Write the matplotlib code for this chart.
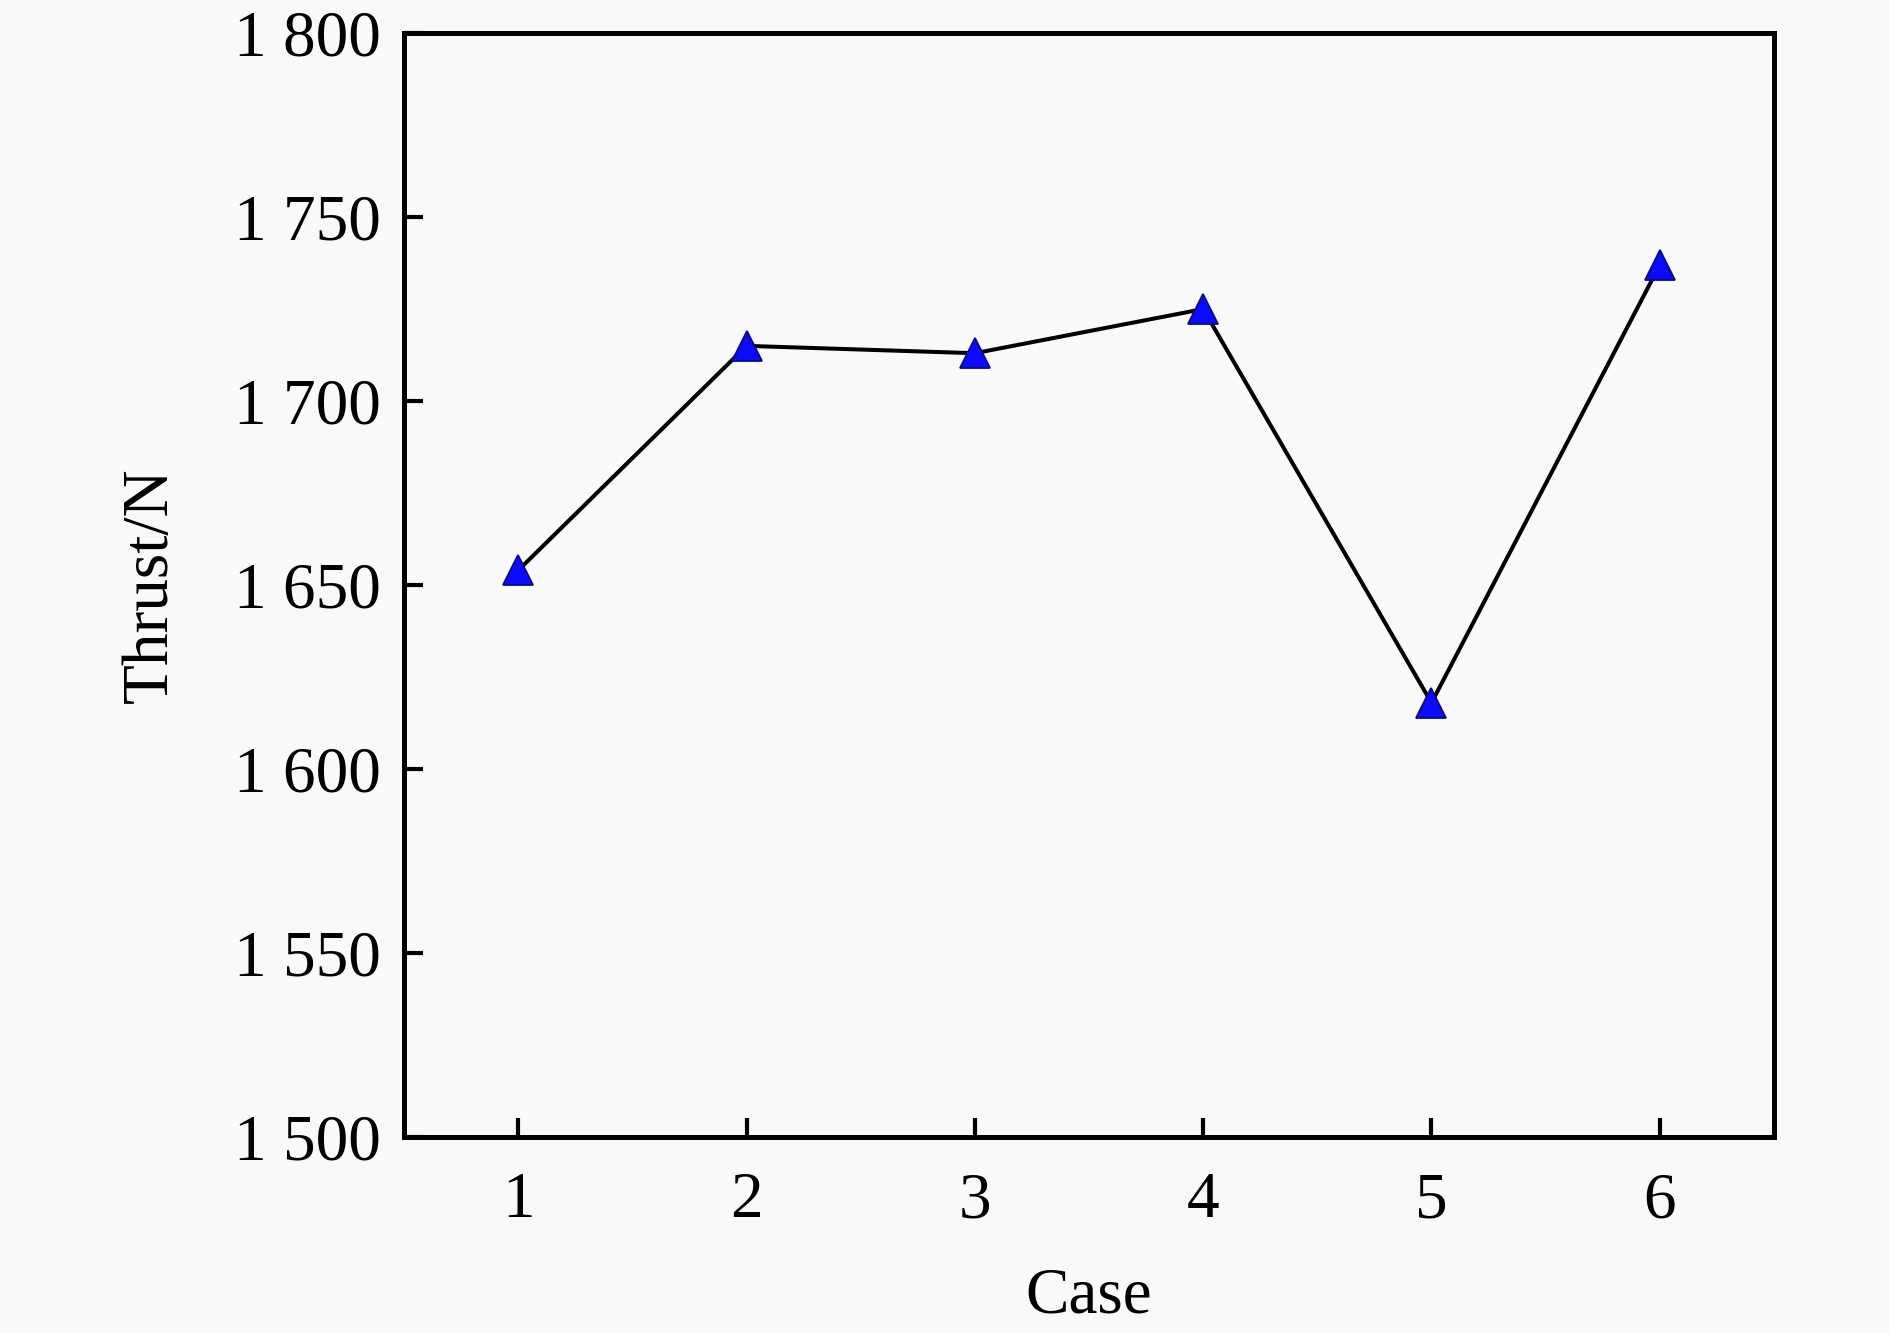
import matplotlib
matplotlib.use('Agg')
import matplotlib.pyplot as plt
from matplotlib.ticker import FuncFormatter

# data
cases = [1, 2, 3, 4, 5, 6]
thrust = [1654, 1715, 1713, 1725, 1618, 1737]
y_ticks = [1500, 1550, 1600, 1650, 1700, 1750, 1800]

plt.rcParams['font.family'] = ['Liberation Serif', 'DejaVu Serif']

fig = plt.figure(figsize=(18.9, 13.33), dpi=100, facecolor='#f9f9f9')
ax = fig.add_axes([0.2138, 0.147, 0.7248, 0.8282])
ax.set_facecolor('#f9f9f9')

ax.plot(cases, thrust, color='black', linewidth=2.9, marker='^',
        markersize=21, markerfacecolor='#0a0aff', markeredgecolor='#0a0a80',
        markeredgewidth=1.3)

ax.set_xlim(0.5, 6.5)
ax.set_ylim(1500, 1800)
ax.set_xticks(cases)
ax.set_yticks(y_ticks)
# thousands separated by a space, like the original
ax.yaxis.set_major_formatter(FuncFormatter(lambda v, p: '{:,}'.format(int(v)).replace(',', ' ')))

for s in ax.spines.values():
    s.set_linewidth(3.6)
ax.tick_params(direction='in', length=14, width=3, labelsize=47)
ax.tick_params(axis='x', pad=25)
ax.tick_params(axis='y', pad=17)

ax.set_xlabel('Case', fontsize=47, labelpad=26)
ax.set_ylabel('Thrust/N', fontsize=47, labelpad=38)

fig.savefig('out.png', dpi=100, facecolor=fig.get_facecolor())
